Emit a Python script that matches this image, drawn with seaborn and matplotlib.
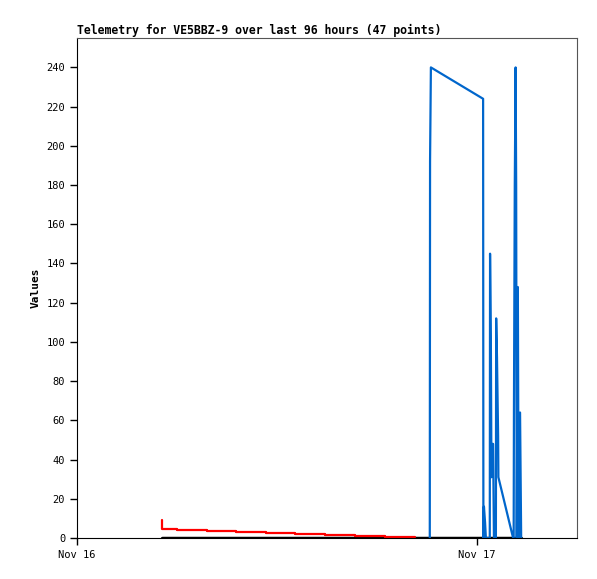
import numpy as np
import pandas as pd
import matplotlib
matplotlib.use("Agg")
import matplotlib.pyplot as plt
import matplotlib.dates as mdates
import seaborn as sns

# telemetry channels
blue_times = ["2023-11-16 21:10", "2023-11-16 21:11", "2023-11-16 21:14",
              "2023-11-17 00:22", "2023-11-17 00:23", "2023-11-17 00:25",
              "2023-11-17 00:29", "2023-11-17 00:32", "2023-11-17 00:46",
              "2023-11-17 00:47", "2023-11-17 00:50", "2023-11-17 00:52",
              "2023-11-17 00:56", "2023-11-17 00:58", "2023-11-17 01:01",
              "2023-11-17 01:08", "2023-11-17 01:09", "2023-11-17 01:12",
              "2023-11-17 01:16", "2023-11-17 01:17", "2023-11-17 02:10",
              "2023-11-17 02:12", "2023-11-17 02:13", "2023-11-17 02:16",
              "2023-11-17 02:19", "2023-11-17 02:21", "2023-11-17 02:23",
              "2023-11-17 02:27", "2023-11-17 02:30", "2023-11-17 02:35",
              "2023-11-17 02:39"]
blue_vals = [0, 192, 240,
             224, 0, 16,
             8, 0, 0,
             145, 97, 31,
             48, 48, 0,
             0, 112, 92,
             52, 31, 0,
             0, 64, 180,
             240, 180, 0,
             128, 0, 64,
             0]

red_times = ["2023-11-16 05:06", "2023-11-16 05:07", "2023-11-16 06:00",
             "2023-11-16 07:48", "2023-11-16 09:32", "2023-11-16 11:20",
             "2023-11-16 13:05", "2023-11-16 14:53", "2023-11-16 16:41",
             "2023-11-16 18:29", "2023-11-16 20:17"]
red_vals = [9.2, 4.6, 4.1, 3.6, 3.1, 2.6, 2.0, 1.5, 1.0, 0.7, 0.7]

black_times = ["2023-11-16 05:06", "2023-11-17 02:38"]
black_vals = [0, 0]

blue = pd.DataFrame({"t": pd.to_datetime(blue_times), "v": blue_vals})
red = pd.DataFrame({"t": pd.to_datetime(red_times), "v": red_vals})
black = pd.DataFrame({"t": pd.to_datetime(black_times), "v": black_vals})

sns.set_style("white")
plt.rcParams['font.family'] = ['DejaVu Sans Mono']
plt.rcParams['text.color'] = 'black'
plt.rcParams['axes.labelcolor'] = 'black'

fig = plt.figure(figsize=(5.97, 5.79), dpi=100)
ax = fig.add_axes([77 / 597, 41 / 579, 500 / 597, 500 / 579])

sns.lineplot(data=black, x="t", y="v", color="black", lw=2.5, sort=False,
             estimator=None, ax=ax)
sns.lineplot(data=red, x="t", y="v", color="#ff0000", lw=1.6, sort=False,
             estimator=None, drawstyle="steps-post", ax=ax)
sns.lineplot(data=blue, x="t", y="v", color="#0066cc", lw=1.6, sort=False,
             estimator=None, ax=ax)

ax.set_xlim(pd.Timestamp("2023-11-16 00:00"), pd.Timestamp("2023-11-17 06:00"))
ax.set_ylim(0, 255)
ax.set_yticks(np.arange(0, 241, 20))
ax.xaxis.set_major_locator(mdates.DayLocator())
ax.xaxis.set_major_formatter(mdates.DateFormatter("%b %d"))

ax.tick_params(axis="both", direction="out", length=5, width=1, labelsize=7.5,
               colors="black", left=True, bottom=True)
for side in ["left", "bottom"]:
    ax.spines[side].set_color("black")
for side in ["top", "right"]:
    ax.spines[side].set_color("#555555")

ax.set_xlabel("")
ax.set_ylabel("Values", fontsize=8, fontweight="bold", color="black")
ax.set_title("Telemetry for VE5BBZ-9 over last 96 hours (47 points)",
             fontsize=8.3, fontweight="bold", loc="left", pad=3, color="black")

fig.savefig("out.png", dpi=100)
